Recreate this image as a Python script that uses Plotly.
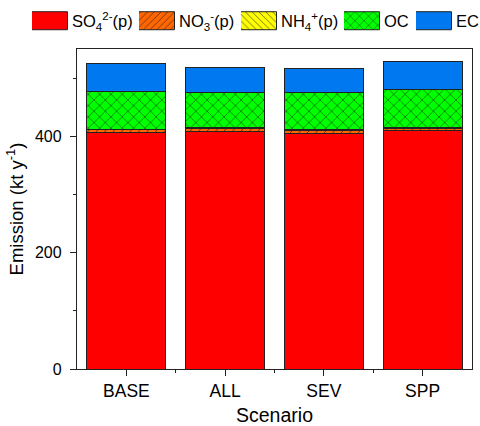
import plotly.graph_objects as go

# Scenario emissions by species (kt/yr)
scenarios = ["BASE", "ALL", "SEV", "SPP"]
so4 = [407, 408, 405, 410]
no3 = [4.0, 5.5, 5.0, 4.0]
nh4 = [1.5, 1.5, 1.5, 1.5]
oc = [65, 61, 64, 64.5]
ec = [48, 43, 41.5, 48.5]

species = [
    ("SO<sub>4</sub><sup>2-</sup>(p)", so4, "#FF0000", ""),
    ("NO<sub>3</sub><sup>-</sup>(p)", no3, "#FF6600", "/"),
    ("NH<sub>4</sub><sup>+</sup>(p)", nh4, "#FFFF00", "\\"),
    ("OC", oc, "#00FF00", "x"),
    ("EC", ec, "#0078F0", ""),
]

# left edge (px) of each legend entry along the top row
legend_left = [32, 139, 241, 344, 416]

FONT = "Arial, Liberation Sans, sans-serif"
AXIS = "#222222"
W, H = 480, 426
xpos = list(range(len(scenarios)))

fig = go.Figure()
legend_layout = {}
for i, (name, vals, color, shape) in enumerate(species):
    key = "legend" if i == 0 else f"legend{i + 1}"
    pattern = dict(shape=shape, fgcolor="#1a1a1a", bgcolor=color,
                   fillmode="replace", size=8 if shape == "x" else 6,
                   solidity=0.12)
    fig.add_trace(go.Bar(
        x=xpos, y=vals, name=name, width=0.8, legend=key,
        marker=dict(color=color, pattern=pattern,
                    line=dict(color=AXIS, width=1)),
    ))
    legend_layout[key] = dict(
        orientation="h", xref="container", yref="container",
        x=legend_left[i] / W, xanchor="left", y=1 - 21 / H, yanchor="middle",
        font=dict(size=16.5), itemwidth=30, bgcolor="rgba(0,0,0,0)",
        borderwidth=0, itemclick=False, itemdoubleclick=False,
    )

fig.update_layout(
    barmode="stack",
    width=W, height=H,
    margin=dict(l=77, r=8, t=49, b=57, autoexpand=False),
    paper_bgcolor="white", plot_bgcolor="white",
    font=dict(family=FONT, size=17, color="black"),
    showlegend=True,
    **legend_layout,
)

fig.update_xaxes(
    range=[-0.5, 3.5], tickmode="array", tickvals=xpos, ticktext=scenarios,
    ticks="outside", ticklen=6, tickwidth=1.2, tickcolor=AXIS,
    tickfont=dict(size=17.5),
    minor=dict(tickmode="array", tickvals=[0.5, 1.5, 2.5], ticks="outside",
               ticklen=3, tickwidth=1.2, tickcolor=AXIS),
    showline=True, linecolor=AXIS, linewidth=1.3, mirror=True,
    showgrid=False, zeroline=False,
    title=dict(text="Scenario", font=dict(size=19.5), standoff=20),
)

fig.update_yaxes(
    range=[0, 550], dtick=200, tick0=0,
    ticks="outside", ticklen=6, tickwidth=1.2, tickcolor=AXIS,
    tickfont=dict(size=16),
    minor=dict(dtick=100, ticks="outside", ticklen=3, tickwidth=1.2,
               tickcolor=AXIS),
    showline=True, linecolor=AXIS, linewidth=1.3, mirror=True,
    showgrid=False, zeroline=False, ticklabelstandoff=5,
    title=dict(text="Emission (kt y<sup>-1</sup>)", font=dict(size=18.5),
               standoff=6),
)

# Widen every legend swatch into a rectangle sitting just left of its label
js = """
var gd = document.getElementById('{plot_id}');
function growSwatches() {
  gd.querySelectorAll('.legendpoints path').forEach(function (p) {
    p.setAttribute('d', 'M15.5,9H-21.5V-9H15.5Z');
  });
}
growSwatches();
gd.on('plotly_afterplot', growSwatches);
"""

fig.write_html("out.html", post_script=js)
